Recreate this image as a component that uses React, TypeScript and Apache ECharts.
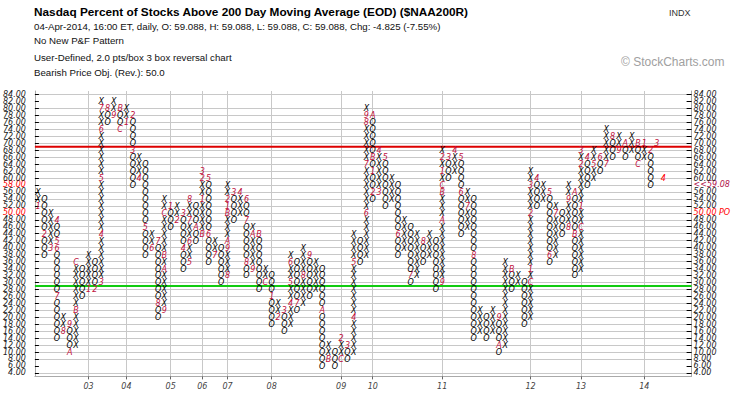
import React, { useEffect, useRef } from "react";
import * as echarts from "echarts";

// Point & Figure columns (2.0 pts/box, 3 box reversal)
const colKind = "XOXOXOXOXOXOXOXOXOXOXOXOXOXOXOXOXOXOXOXOXOXOXOXOXOXOXOXOXOXOXOXOXOXOXOXOXOXOXOXOXOXOXOXOXOXOXOXOXO";
const colLow = [
  52, 38, 40, 14, 16, 10, 12, 26, 28, 28,
  30, 76, 78, 74, 76, 58, 60, 38, 40, 20,
  22, 46, 48, 34, 36, 42, 44, 36, 38, 30,
  32, 48, 50, 32, 34, 28, 30, 18, 20, 16,
  18, 22, 24, 26, 28, 6, 8, 6, 8, 8,
  10, 36, 38, 54, 56, 52, 54, 38, 40, 30,
  32, 36, 38, 28, 30, 60, 62, 44, 46, 14,
  16, 14, 16, 10, 12, 28, 30, 18, 20, 52,
  54, 36, 38, 44, 46, 32, 34, 58, 60, 62,
  64, 66, 68, 66, 68, 64, 66, 58, 60, 60,
];
const colHigh = [
  56, 54, 50, 48, 20, 18, 36, 34, 38, 36,
  82, 80, 82, 80, 80, 78, 66, 64, 44, 42,
  54, 52, 52, 50, 54, 52, 62, 60, 42, 40,
  58, 56, 56, 54, 46, 44, 34, 32, 24, 22,
  38, 36, 40, 38, 36, 34, 12, 10, 14, 12,
  44, 42, 80, 78, 68, 66, 60, 58, 48, 46,
  44, 42, 44, 42, 68, 66, 68, 66, 56, 54,
  22, 20, 22, 20, 36, 34, 32, 30, 62, 60,
  58, 56, 52, 50, 58, 56, 68, 66, 68, 66,
  74, 72, 72, 70, 72, 70, 70, 68, 70, 68,
];
// month markers: [column, box value, month code]
const monthMarks: [number, number, string][] = [
  [0, 52, "1"], [1, 44, "2"], [2, 40, "3"], [3, 48, "4"], [3, 42, "5"], [3, 40, "6"], [3, 26, "7"],
  [4, 16, "8"], [5, 18, "9"], [5, 10, "A"], [6, 22, "B"], [6, 36, "C"], [8, 28, "1"], [9, 28, "2"],
  [10, 30, "3"], [10, 44, "4"], [10, 60, "5"], [10, 74, "6"], [10, 80, "7"], [11, 80, "8"], [12, 78, "9"],
  [13, 80, "B"], [13, 74, "C"], [14, 76, "1"], [15, 78, "2"], [15, 68, "3"], [16, 60, "4"], [17, 46, "5"],
  [18, 40, "6"], [19, 42, "7"], [19, 24, "8"], [20, 22, "9"], [20, 34, "A"], [20, 38, "B"], [20, 50, "C"],
  [21, 52, "1"], [22, 48, "2"], [23, 50, "3"], [23, 40, "4"], [24, 36, "5"], [24, 42, "6"], [24, 48, "7"],
  [24, 54, "8"], [25, 46, "A"], [26, 44, "B"], [26, 54, "1"], [26, 60, "2"], [26, 62, "3"], [27, 60, "5"],
  [27, 44, "6"], [28, 38, "7"], [30, 32, "8"], [30, 40, "9"], [30, 42, "A"], [30, 50, "B"], [30, 52, "1"],
  [30, 54, "2"], [31, 56, "3"], [32, 56, "4"], [33, 54, "6"], [33, 48, "7"], [33, 36, "8"], [34, 34, "9"],
  [34, 44, "A"], [35, 44, "B"], [36, 30, "C"], [37, 26, "1"], [38, 20, "2"], [39, 22, "3"], [40, 24, "4"],
  [40, 30, "5"], [40, 36, "6"], [41, 24, "7"], [42, 32, "8"], [43, 38, "9"], [45, 22, "A"], [46, 8, "B"],
  [48, 8, "C"], [48, 14, "2"], [49, 12, "3"], [50, 20, "4"], [50, 36, "5"], [52, 50, "6"], [52, 64, "7"],
  [52, 76, "8"], [52, 78, "9"], [53, 78, "A"], [53, 66, "B"], [53, 62, "1"], [53, 56, "2"], [54, 56, "3"],
  [54, 68, "4"], [55, 66, "5"], [57, 44, "6"], [59, 32, "7"], [61, 42, "8"], [64, 30, "9"], [64, 48, "A"],
  [64, 56, "B"], [64, 58, "C"], [64, 62, "1"], [64, 66, "2"], [65, 66, "3"], [66, 68, "4"], [67, 66, "5"],
  [67, 56, "6"], [68, 52, "7"], [69, 38, "8"], [73, 20, "9"], [73, 12, "A"], [75, 34, "B"], [78, 30, "C"],
  [78, 34, "1"], [78, 50, "2"], [78, 58, "3"], [79, 60, "4"], [81, 56, "5"], [81, 38, "6"], [82, 50, "7"],
  [84, 46, "8"], [84, 54, "9"], [85, 56, "A"], [85, 44, "B"], [86, 46, "C"], [86, 52, "1"], [86, 64, "2"],
  [86, 68, "3"], [87, 66, "4"], [88, 64, "5"], [89, 66, "6"], [90, 64, "7"], [91, 72, "8"], [92, 68, "9"],
  [93, 70, "A"], [95, 70, "B"], [95, 64, "C"], [96, 70, "1"], [97, 68, "2"], [98, 70, "3"], [99, 60, "4"],
];
const currentMark = [99, 60];
const yearCols = [8, 14, 21, 26, 30, 37, 48, 53, 64, 78, 86, 96];
const yearLabels = ["03", "04", "05", "06", "07", "08", "09", "10", "11", "12", "13", "14"];
const boxLabels = [4, 6, 8, 10, 12, 14, 16, 18, 20, 22, 24, 26, 28, 30, 32, 34, 36, 38, 40, 42, 44, 46, 48, 50, 52, 54, 56, 58, 60, 62, 64, 66, 68, 70, 72, 74, 76, 78, 80, 82, 84];
const upperLine = 69;
const lowerLine = 29;
const lastClose = "59.08";
const priceObjective = 50;
const lastBox = 58;

const TITLE = "Nasdaq Percent of Stocks Above 200 Day Moving Average (EOD) ($NAA200R)";
const SUB1 = "04-Apr-2014, 16:00 ET, daily, O: 59.088, H: 59.088, L: 59.088, C: 59.088, Chg: -4.825 (-7.55%)";
const SUB2 = "No New P&F Pattern";
const SUB3 = "User-Defined, 2.0 pts/box 3 box reversal chart";
const SUB4 = "Bearish Price Obj. (Rev.): 50.0";

const MONTH_COLOR = "#c0103c";
const GLYPH_FONT = 'italic 8px "DejaVu Sans"';

export default function App() {
  const ref = useRef<HTMLDivElement>(null);
  useEffect(() => {
    document.body.style.margin = "0";
    if (!ref.current) return;
    const chart = echarts.init(ref.current, undefined, { renderer: "svg" });

    const markMap: Record<string, string> = {};
    monthMarks.forEach(([c, v, t]) => { markMap[c + "_" + v] = t; });
    const glyphs: { x: number; v: number; t: string; c: string }[] = [];
    for (let c = 0; c < colLow.length; c++) {
      for (let v = colLow[c]; v <= colHigh[c]; v += 2) {
        const m = markMap[c + "_" + v];
        const isCur = c === currentMark[0] && v === currentMark[1];
        glyphs.push({
          x: c + 0.5,
          v,
          t: m ? m : colKind[c],
          c: m ? (isCur ? "#ff0000" : MONTH_COLOR) : "#000000",
        });
      }
    }

    // split the label set so that neighbouring labels at the ends are not auto-hidden
    const nearEnds = [boxLabels[1], boxLabels[boxLabels.length - 2]];
    const mainLabels = boxLabels.filter((v) => nearEnds.indexOf(v) < 0);

    const leftFmt = (v: number) => {
      if (v === lastBox || v === priceObjective) return "{r|" + v.toFixed(2) + "}";
      return "{n|" + v.toFixed(2) + "}";
    };
    const rightFmt = (v: number) => {
      if (v === lastBox) return "{c|<<" + lastClose + "}";
      if (v === priceObjective) return "{r|" + v.toFixed(2) + " PO}";
      return "{n|" + v.toFixed(2) + "}";
    };
    const base = { fontStyle: "italic", fontFamily: "DejaVu Sans", fontSize: 8, lineHeight: 6 };
    const rich = {
      n: { ...base, color: "#222" },
      r: { ...base, color: "#ff0000" },
      c: { ...base, color: "#b0104a" },
    };

    const makeY = (side: "left" | "right", vals: number[], primary: boolean) => ({
      type: "value",
      min: 3,
      max: 85,
      interval: 2,
      position: side,
      offset: 0,
      splitLine: { show: primary && side === "left", lineStyle: { color: "#c8c8c8", width: 1 } },
      axisLine: { show: primary, lineStyle: { color: "#aaaaaa" } },
      axisTick: {
        show: true, inside: true, customValues: vals, length: side === "left" ? 4 : 5,
        lineStyle: { color: "#000" },
      },
      axisLabel: {
        customValues: vals,
        formatter: side === "left" ? leftFmt : rightFmt,
        rich,
        margin: side === "left" ? 9 : 2,
        align: side === "left" ? "right" : "left",
        lineHeight: 6,
        showMinLabel: true,
        showMaxLabel: true,
        hideOverlap: false,
      },
    });

    const option: any = {
      animation: false,
      backgroundColor: "#ffffff",
      grid: { left: 33.3, top: 91, width: 658.3, height: 285.4 },
      xAxis: {
        type: "value",
        min: 0,
        max: 104,
        interval: 1,
        splitLine: { show: true, lineStyle: { color: "#c8c8c8", width: 1 } },
        axisLine: { show: true, lineStyle: { color: "#aaaaaa" } },
        axisTick: { show: true, customValues: yearCols.map((c) => c + 0.5), length: 3, lineStyle: { color: "#666" } },
        axisLabel: {
          customValues: yearCols.map((c) => c + 0.5),
          formatter: (v: number) => {
            const i = yearCols.indexOf(Math.round(v - 0.5));
            return i >= 0 ? yearLabels[i] : "";
          },
          margin: 6,
          color: "#444",
          fontStyle: "italic",
          fontFamily: "DejaVu Sans",
          fontSize: 8,
          showMinLabel: true,
          showMaxLabel: true,
          hideOverlap: false,
        },
      },
      yAxis: [
        makeY("left", mainLabels, true),
        makeY("right", mainLabels, true),
        makeY("left", nearEnds, false),
        makeY("right", nearEnds, false),
      ],
      series: [
        {
          type: "line",
          data: [[0, upperLine], [104, upperLine]],
          symbol: "none",
          lineStyle: { color: "#dd0000", width: 2 },
          z: 3,
          silent: true,
        },
        {
          type: "line",
          data: [[0, lowerLine], [104, lowerLine]],
          symbol: "none",
          lineStyle: { color: "#11cc11", width: 2 },
          z: 3,
          silent: true,
        },
        {
          type: "custom",
          data: glyphs.map((g) => [g.x, g.v]),
          z: 4,
          silent: true,
          renderItem: (params: any, api: any) => {
            const g = glyphs[params.dataIndex];
            const pt = api.coord([api.value(0), api.value(1)]);
            return {
              type: "text",
              x: pt[0],
              y: pt[1] + 0.5,
              style: {
                text: g.t,
                fill: g.c,
                font: GLYPH_FONT,
                lineHeight: 6,
                align: "center",
                verticalAlign: "middle",
              },
            };
          },
        },
      ],
      graphic: [
        { type: "text", left: 34, top: 6, style: { text: TITLE, font: 'bold 11.8px "Liberation Sans"', fill: "#000" } },
        { type: "text", left: 669, top: 8, style: { text: "INDX", font: '9px "Liberation Sans"', fill: "#333" } },
        { type: "text", left: 34, top: 21.5, style: { text: SUB1, font: '9.7px "Liberation Sans"', fill: "#111" } },
        { type: "text", left: 34, top: 35.5, style: { text: SUB2, font: '9.7px "Liberation Sans"', fill: "#111" } },
        { type: "text", left: 34, top: 52.5, style: { text: SUB3, font: '9.7px "Liberation Sans"', fill: "#111" } },
        { type: "text", left: 34, top: 67.5, style: { text: SUB4, font: '9.7px "Liberation Sans"', fill: "#111" } },
        { type: "text", left: 621, top: 56, style: { text: "\u00a9 StockCharts.com", font: '12px "Liberation Sans"', fill: "#a0a0a0" } },
      ],
    };
    chart.setOption(option);
    return () => chart.dispose();
  }, []);
  return <div ref={ref} style={{ width: 745, height: 398 }} />;
}
